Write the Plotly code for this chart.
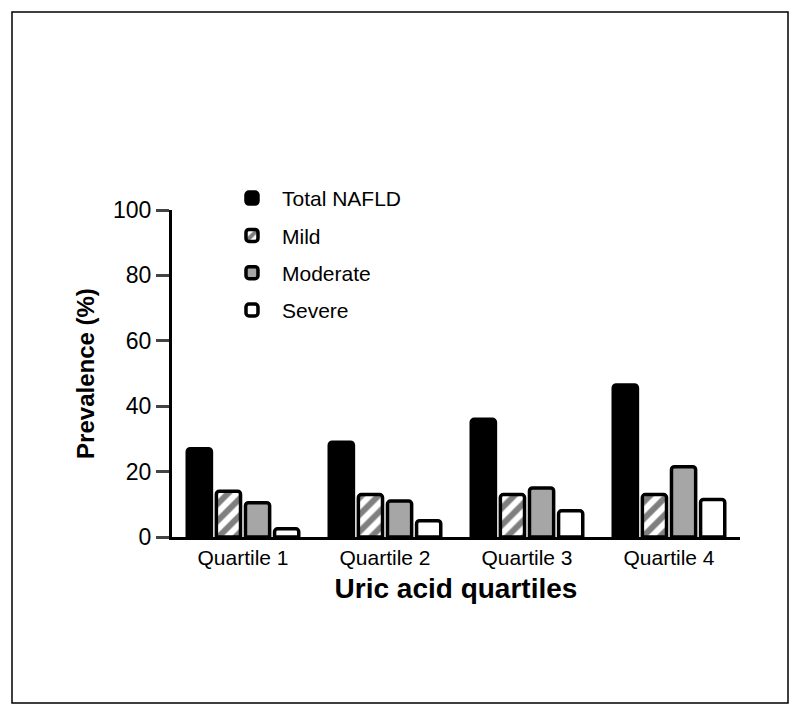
import plotly.graph_objects as go

# 데이터
quartiles = ["Quartile 1", "Quartile 2", "Quartile 3", "Quartile 4"]
total_nafld = [27, 29, 36, 46.5]
mild = [14, 13, 13, 13]
moderate = [10.5, 11, 15, 21.5]
severe = [2.5, 5, 8, 11.5]

y_ticks = [0, 20, 40, 60, 80, 100]

FONT = "Arial, Liberation Sans, sans-serif"
line_style = dict(color="black", width=3.5)

fig = go.Figure()
fig.add_trace(go.Bar(x=quartiles, y=total_nafld, name="Total NAFLD", legendgroup="a",
                     marker=dict(color="black", line=line_style, cornerradius=3)))
fig.add_trace(go.Bar(x=quartiles, y=mild, name="Mild", legendgroup="b",
                     marker=dict(color="white", line=line_style, cornerradius=3,
                                 pattern=dict(shape="/", fgcolor="black", bgcolor="white",
                                              size=12, solidity=0.5))))
fig.add_trace(go.Bar(x=quartiles, y=moderate, name="Moderate", legendgroup="c",
                     marker=dict(color="#a6a6a6", line=line_style, cornerradius=3)))
fig.add_trace(go.Bar(x=quartiles, y=severe, name="Severe", legendgroup="d",
                     marker=dict(color="white", line=line_style, cornerradius=3)))

# 바깥 테두리 (플롯 영역 기준 paper 좌표)
pw, ph = 568, 327
fig.add_shape(type="rect", xref="paper", yref="paper",
              x0=(12 - 172) / pw, x1=(788 - 172) / pw,
              y0=(537 - 703) / ph, y1=(537 - 12) / ph,
              line=dict(color="black", width=1.5))

fig.update_layout(
    width=784, height=698,
    margin=dict(l=164, r=52, t=202, b=169),
    paper_bgcolor="white", plot_bgcolor="white",
    barmode="group", bargap=0.18, bargroupgap=0.17,
    font=dict(family=FONT, color="black"),
    showlegend=True,
    legend=dict(x=0.088, y=1.098, xanchor="left", yanchor="top",
                font=dict(size=21), tracegroupgap=7, itemwidth=50,
                bgcolor="rgba(0,0,0,0)"),
    xaxis=dict(showline=True, linecolor="black", linewidth=3, ticks="",
               tickfont=dict(size=21), range=[-0.5, 3.5],
               title=dict(text="<b>Uric acid quartiles</b>", font=dict(size=28), standoff=11)),
    yaxis=dict(showline=True, linecolor="black", linewidth=3, range=[0, 100],
               tickvals=y_ticks, ticks="outside", ticklen=13, tickwidth=3,
               tickfont=dict(size=23), showgrid=False, zeroline=False,
               title=dict(text="<b>Prevalence (%)</b>", font=dict(size=24), standoff=12)),
)

fig.write_html("out.html")
